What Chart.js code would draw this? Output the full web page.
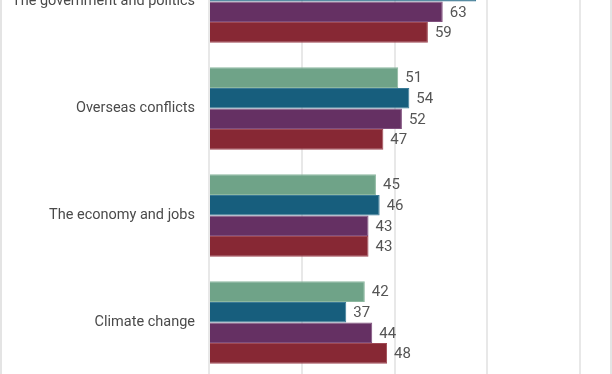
<!DOCTYPE html>
<html>
<head>
<meta charset="utf-8">
<script src="https://cdn.jsdelivr.net/npm/chart.js@4"></script>
<style>
    html, body { margin: 0; padding: 0; background: #fff; }
    #frame { position: relative; width: 612px; height: 374px; overflow: hidden; background: #fff; }
    #barChart { position: absolute; left: 0; top: -52px; }
    .edge { position: absolute; top: 0; width: 2px; height: 374px; background: #e4e4e4; }
</style>
</head>
<body>
<div id="frame">
    <canvas id="barChart" width="612" height="428"></canvas>
    <div class="edge" style="left:0"></div>
    <div class="edge" style="left:610px"></div>
</div>
<script>
    // categories and values
    var categories = ["The government and politics", "Overseas conflicts", "The economy and jobs", "Climate change"];
    var seriesNames = ["Series 1", "Series 2", "Series 3", "Series 4"];
    var series1 = [70, 51, 45, 42];
    var series2 = [72, 54, 46, 37];
    var series3 = [63, 52, 43, 44];
    var series4 = [59, 47, 43, 48];
    var xTicks = [0, 25, 50, 75, 100];

    var fills = ["#6fa388", "#175e7d", "#653063", "#872834"];
    var edges = ["#8db8a0", "#3a7a96", "#80507e", "#a04a55"];

    // value labels next to the bars
    var valueLabels = {
        id: "valueLabels",
        afterDatasetsDraw: function (chart) {
            var c = chart.ctx;
            c.save();
            c.font = "15px Roboto";
            c.fillStyle = "#555555";
            c.textBaseline = "middle";
            c.textAlign = "left";
            chart.data.datasets.forEach(function (ds, i) {
                var meta = chart.getDatasetMeta(i);
                meta.data.forEach(function (bar, j) {
                    c.fillText(ds.data[j], bar.x + 7, bar.y + 1);
                });
            });
            c.restore();
        }
    };

    var ctx = document.getElementById("barChart");
    var data = [series1, series2, series3, series4];
    var myChart = new Chart(ctx, {
        type: "bar",
        data: {
            labels: categories,
            datasets: data.map(function (d, i) {
                return {
                    label: seriesNames[i],
                    data: d,
                    backgroundColor: fills[i],
                    borderColor: edges[i],
                    borderWidth: 1,
                    barPercentage: 1,
                    categoryPercentage: 0.77
                };
            })
        },
        options: {
            indexAxis: "y",
            responsive: false,
            animation: false,
            layout: { padding: { left: 0, right: 32, top: 0, bottom: 0 } },
            plugins: {
                legend: { display: false },
                tooltip: { enabled: false }
            },
            scales: {
                x: {
                    min: 0,
                    max: 100,
                    afterBuildTicks: function (s) {
                        s.ticks = xTicks.map(function (v) { return { value: v }; });
                    },
                    afterFit: function (s) { s.height = 0; },
                    ticks: { display: false },
                    border: { display: false },
                    grid: { color: "#e8e8e8", lineWidth: 2, drawTicks: false }
                },
                y: {
                    afterFit: function (s) {
                        s.width = 209;
                        // no extra room above/below the first and last label
                        s.paddingTop = 0;
                        s.paddingBottom = 0;
                    },
                    grid: { display: false, drawTicks: false },
                    border: { display: false },
                    ticks: {
                        color: "#4a4a4a",
                        padding: 14,
                        font: { family: "Roboto", size: 14.5 }
                    }
                }
            }
        },
        plugins: [valueLabels]
    });
</script>
</body>
</html>
